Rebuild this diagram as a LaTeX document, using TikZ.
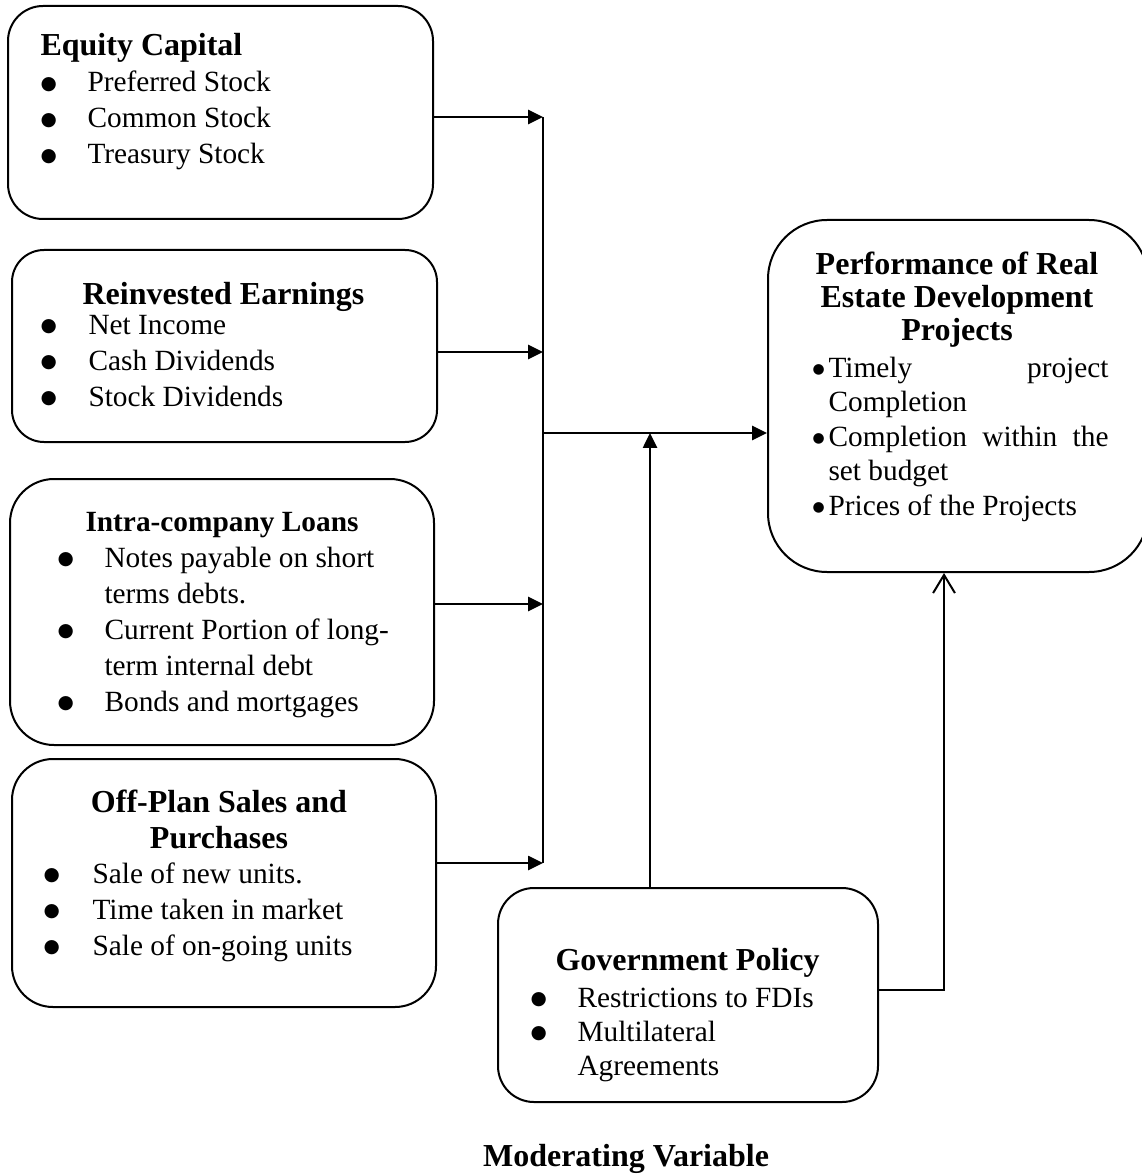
\documentclass[tikz,border=0pt]{standalone}
\usepackage{fontspec}
\setmainfont{Liberation Serif}
\newfontfamily\dotfont{DejaVu Sans}
\usetikzlibrary{arrows.meta, positioning, calc}
\newlength{\px}
\setlength{\px}{0.375pt}
\newcommand{\bigdot}{\raisebox{0.8pt}{\dotfont\fontsize{7}{7}\selectfont ●}}
\newcommand{\smalldot}{\raisebox{1.2pt}{\dotfont\fontsize{5.2}{5.2}\selectfont ●}}
\newcommand{\itm}[2][47]{\makebox[#1\px][l]{\bigdot}#2}
\newcommand{\pitm}[1]{\makebox[15\px][l]{\hspace*{-1\px}\smalldot}#1}

\begin{document}
\begin{tikzpicture}[x=0.375pt, y=-0.375pt,
  box/.style={draw, line width=0.75pt, rounded corners=#1, inner sep=0pt},
  boxhead/.style={inner sep=0pt, anchor=base, font={\fontsize{12}{13.5}\selectfont\bfseries}},
  boxlist/.style={inner sep=0pt, anchor=base west, font={\fontsize{11}{13.5}\selectfont}},
  link/.style={line width=0.75pt, -{Triangle[length=5.6pt, width=5.3pt]}},
  openlink/.style={line width=0.75pt, -{Straight Barb[length=6.8pt, width=8.2pt]}}]
  \useasboundingbox (0,0) rectangle (1141,1176);

  % independent variables
  \node[box=35\px, minimum width=425\px, minimum height=213\px] (equity) at (220.5,112.5) {};
  \node[box=32\px, minimum width=425\px, minimum height=192\px] (reinv) at (224.5,346) {};
  \node[box=44\px, minimum width=424\px, minimum height=266\px] (intra) at (222,612) {};
  \node[box=41\px, minimum width=424\px, minimum height=248\px] (offplan) at (224,883) {};

  \node[boxhead, anchor=base west] (equity-h) at (40,56) {Equity Capital};
  \node[boxlist] (equity-l) at (40,92) {\parbox[t]{380\px}{%
    \itm{Preferred Stock}\\ \itm{Common Stock}\\ \itm{Treasury Stock}}};

  \node[boxhead] (reinv-h) at (223.5,305) {Reinvested Earnings};
  \node[boxlist] (reinv-l) at (40,334) {\parbox[t]{380\px}{%
    \itm[48]{Net Income}\\ \itm[48]{Cash Dividends}\\ \itm[48]{Stock Dividends}}};

  \node[boxhead, font={\fontsize{11}{13.5}\selectfont\bfseries}] (intra-h) at (222,531) {Intra-company Loans};
  \node[boxlist] (intra-l) at (57,567) {\parbox[t]{380\px}{%
    \itm{Notes payable on short}\\ \hspace*{47\px}terms debts.\\
    \itm{Current Portion of long-}\\ \hspace*{47\px}term internal debt\\
    \itm{Bonds and mortgages}}};

  \node[boxhead] (offplan-h) at (219,812) {\parbox[t]{400\px}{\centering
    Off-Plan Sales and\\ Purchases}};
  \node[boxlist] (offplan-l) at (43,883) {\parbox[t]{380\px}{%
    \itm[49]{Sale of new units.}\\ \itm[49]{Time taken in market}\\ \itm[49]{Sale of on-going units}}};

  % moderating variable
  \node[box=36\px, minimum width=380\px, minimum height=214\px] (govt) at (688,995) {};
  \node[boxhead] (govt-h) at (687.5,970) {Government Policy};
  \node[boxlist] (govt-l) at (530,1007) {\parbox[t]{340\px}{\setlength{\baselineskip}{34\px}%
    \itm{Restrictions to FDIs}\\ \itm{Multilateral}\\ \hspace*{47\px}Agreements}};
  \node[boxhead] (moder) at (626,1166) {Moderating Variable};

  % dependent variable
  \node[box=59\px, minimum width=380\px, minimum height=352\px] (perf) at (958,396) {};
  \node[boxhead] (perf-h) at (957,275) {\parbox[t]{300\px}{\centering\setlength{\baselineskip}{32.5\px}%
    Performance of Real\\ Estate Development\\ Projects}};
  \node[boxlist] (perf-l) at (813,377) {\parbox[t]{295\px}{\setlength{\baselineskip}{34.5\px}%
    \pitm{Timely\hfill project}\\ \hspace*{15\px}Completion\\
    \pitm{Completion\hfill within\hfill the}\\ \hspace*{15\px}set budget\\
    \pitm{Prices of the Projects}}};

  % connectors
  \coordinate (j1) at (543,117);
  \coordinate (j2) at (543,352);
  \coordinate (j3) at (543,604);
  \coordinate (j4) at (543,863);
  \coordinate (j5) at (543,433);
  \coordinate (j6) at (650,433);
  \coordinate (turn) at (944,990);
  \draw[line width=0.75pt] (j1) -- (j4);
  \draw[link] (equity.east |- j1) -- (j1);
  \draw[link] (reinv.east |- j2) -- (j2);
  \draw[link] (intra.east |- j3) -- (j3);
  \draw[link] (offplan.east |- j4) -- (j4);
  \draw[link] (j5) -- (j5 -| perf.west);
  \draw[link] (govt.north -| j6) -- (j6);
  \draw[openlink] (govt.east |- turn) -- (turn) -- (turn |- perf.south);
\end{tikzpicture}
\end{document}
